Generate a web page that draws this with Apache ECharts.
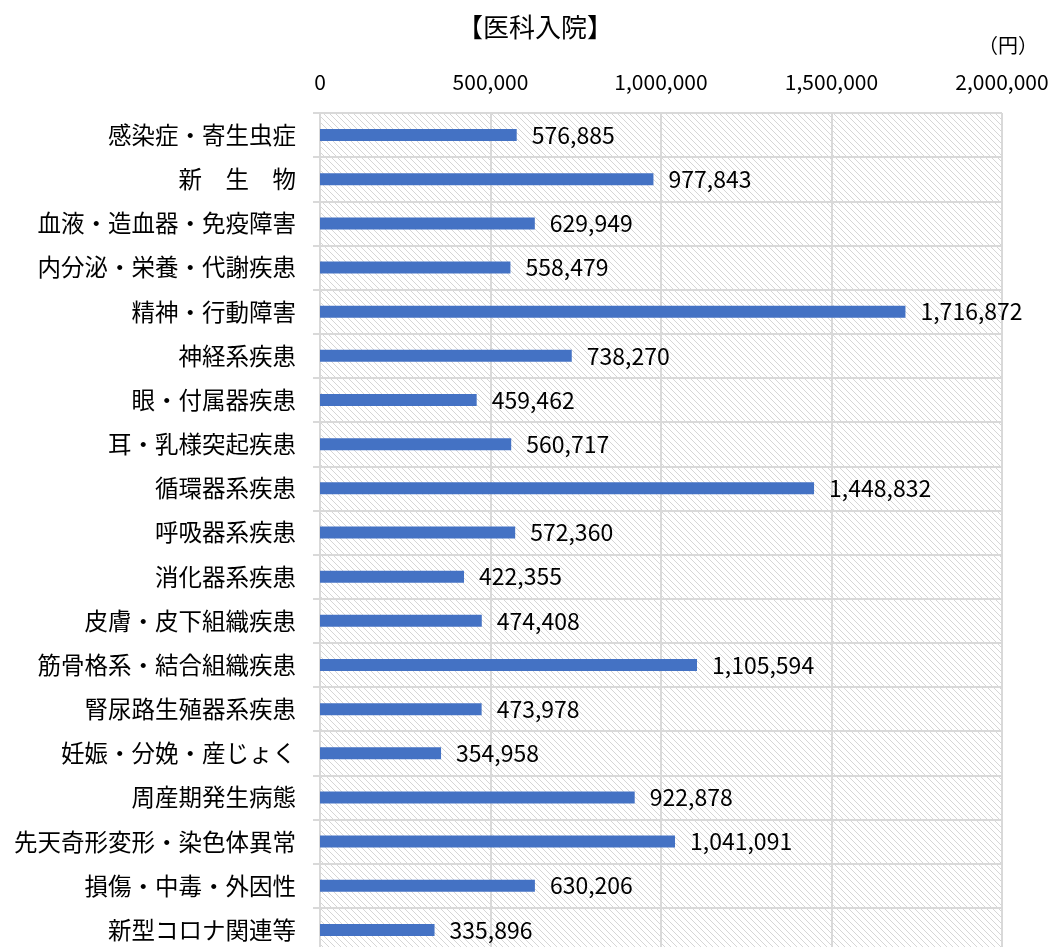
<!DOCTYPE html>
<html>
<head>
<meta charset="utf-8">
<script src="https://cdn.jsdelivr.net/npm/echarts@6/dist/echarts.min.js"></script>
<style>
  html, body { margin: 0; padding: 0; background: #fff; }
  #chart { width: 1048px; height: 947px; }
</style>
</head>
<body>
<div id="chart"></div>
<script>
// 疾病分類
const categories = [
  '感染症・寄生虫症', '新　生　物', '血液・造血器・免疫障害', '内分泌・栄養・代謝疾患',
  '精神・行動障害', '神経系疾患', '眼・付属器疾患', '耳・乳様突起疾患',
  '循環器系疾患', '呼吸器系疾患', '消化器系疾患', '皮膚・皮下組織疾患',
  '筋骨格系・結合組織疾患', '腎尿路生殖器系疾患', '妊娠・分娩・産じょく', '周産期発生病態',
  '先天奇形変形・染色体異常', '損傷・中毒・外因性', '新型コロナ関連等'
]
// 1件当たり医療費（円）
const values = [
  576885, 977843, 629949, 558479, 1716872, 738270, 459462, 560717,
  1448832, 572360, 422355, 474408, 1105594, 473978, 354958, 922878,
  1041091, 630206, 335896
]
const xTicks = [0, 500000, 1000000, 1500000, 2000000]

// hatched background for the plot area
function makeHatch() {
  const c = document.createElement('canvas')
  c.width = 6
  c.height = 6
  const ctx = c.getContext('2d')
  ctx.fillStyle = '#ffffff'
  ctx.fillRect(0, 0, 6, 6)
  ctx.strokeStyle = '#d6d6d6'
  ctx.lineWidth = 1
  ctx.beginPath()
  ctx.moveTo(-1, -1); ctx.lineTo(7, 7)
  ctx.moveTo(-7, -1); ctx.lineTo(1, 7)
  ctx.moveTo(5, -1); ctx.lineTo(13, 7)
  ctx.stroke()
  return c
}

const font = '"Noto Sans CJK JP", "Noto Sans", sans-serif'
const chart = echarts.init(document.getElementById('chart'))

chart.setOption({
  animation: false,
  textStyle: { fontFamily: font },
  title: [
    {
      text: '【医科入院】',
      left: 530, top: 9, textAlign: 'center',
      textStyle: { fontSize: 26, fontWeight: 'normal', color: '#000', fontFamily: font }
    },
    {
      text: '（円）',
      right: 5, top: 30,
      textStyle: { fontSize: 20, fontWeight: 'normal', color: '#000', fontFamily: font }
    }
  ],
  grid: {
    left: 320,
    top: 113,
    width: 682,
    height: 839,
    outerBoundsMode: 'none',
    containLabel: false,
    show: true,
    borderWidth: 0,
    backgroundColor: { image: makeHatch(), repeat: 'repeat' }
  },
  xAxis: {
    type: 'value',
    position: 'top',
    min: 0,
    max: 2000000,
    interval: 500000,
    axisLine: { show: false },
    axisTick: { show: false },
    axisLabel: {
      margin: 20,
      fontSize: 21,
      color: '#000',
      formatter: v => xTicks.includes(v) ? v.toLocaleString('en-US') : ''
    },
    splitLine: { show: true, lineStyle: { color: '#d9d9d9', width: 2 } }
  },
  yAxis: {
    type: 'category',
    data: categories,
    inverse: true,
    axisLine: { show: true, lineStyle: { color: '#d9d9d9', width: 2 } },
    axisTick: { show: true, length: 7, lineStyle: { color: '#d9d9d9', width: 2 } },
    axisLabel: { margin: 24, fontSize: 23.5, color: '#000', interval: 0 },
    splitLine: { show: true, lineStyle: { color: '#d9d9d9', width: 2 } }
  },
  series: [
    {
      type: 'bar',
      data: values,
      barWidth: 12,
      itemStyle: { color: '#4472C4' },
      label: {
        show: true,
        position: 'right',
        distance: 15,
        fontSize: 23,
        color: '#000',
        formatter: p => p.value.toLocaleString('en-US')
      }
    }
  ]
})
</script>
</body>
</html>
